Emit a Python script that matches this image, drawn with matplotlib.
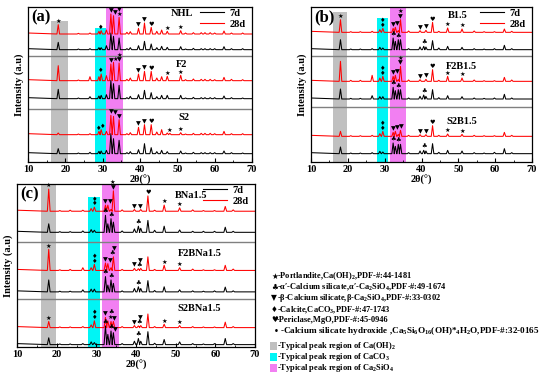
import numpy as np
import matplotlib
matplotlib.use('Agg')
import matplotlib.pyplot as plt
from matplotlib.patches import Rectangle

plt.rcParams['font.family'] = ['Liberation Serif', 'DejaVu Sans']
plt.rcParams['font.weight'] = 'bold'
plt.rcParams['mathtext.fontset'] = 'custom'
plt.rcParams['mathtext.rm'] = 'Liberation Serif:bold'
plt.rcParams['mathtext.bf'] = 'Liberation Serif:bold'
plt.rcParams['mathtext.default'] = 'bf'

# ---- peak positions (2theta) and heights (a.u.) ----
a_pos = [18.1, 23.5, 26.6, 29.0, 29.6, 31.0, 32.2, 32.9, 34.4, 36.5, 37.4, 39.6, 41.2, 43.0,
         44.5, 45.8, 47.3, 48.0, 50.9, 52.2, 54.3, 56.4, 57.4, 58.8, 60.0, 62.5, 64.5, 67.5]
nhl_28d = [28, 2, 3, 8, 10, 12, 60, 55, 50, 5, 7, 17, 33, 20, 8, 12, 8, 0, 10, 3, 4, 4, 4, 4, 3, 9, 3, 3]
nhl_7d = [22, 2, 3, 6, 6, 12, 50, 40, 35, 3, 6, 12, 25, 17, 6, 10, 7, 0, 9, 2, 4, 3, 3, 3, 3, 9, 3, 3]
f2_28d = [45, 2, 12, 12, 20, 15, 50, 55, 53, 4, 8, 20, 28, 28, 8, 12, 13, 0, 16, 3, 5, 4, 4, 4, 3, 10, 4, 3]
f2_7d = [28, 2, 6, 8, 10, 12, 55, 45, 40, 3, 7, 12, 25, 18, 6, 10, 10, 0, 10, 2, 4, 3, 3, 3, 3, 8, 3, 2]
s2_28d = [5, 2, 3, 10, 15, 10, 58, 55, 45, 3, 6, 22, 30, 30, 8, 15, 5, 4, 6, 2, 4, 4, 4, 4, 3, 10, 3, 3]
s2_7d = [15, 2, 4, 7, 8, 10, 60, 45, 40, 3, 6, 12, 30, 18, 6, 10, 6, 0, 8, 2, 4, 3, 3, 3, 3, 8, 3, 2]

b_pos = [18.0, 20.8, 23.4, 26.6, 28.7, 29.5, 32.3, 32.9, 33.7, 34.3, 36.5, 39.6, 40.6, 41.2,
         43.0, 44.7, 47.1, 51.0, 54.3, 57.0, 59.8, 62.5, 64.5]
b1_28d = [38, 2, 2, 3, 8, 12, 12, 15, 5, 38, 4, 5, 0, 6, 30, 3, 13, 10, 4, 2, 2, 10, 3]
b1_7d = [30, 2, 2, 3, 7, 5, 35, 25, 30, 30, 3, 8, 10, 8, 27, 5, 10, 7, 3, 2, 3, 13, 3]
f2b1_28d = [60, 3, 3, 18, 10, 15, 15, 18, 5, 45, 4, 5, 0, 6, 35, 3, 15, 10, 4, 2, 2, 12, 4]
f2b1_7d = [30, 2, 2, 10, 7, 7, 35, 25, 28, 28, 3, 8, 12, 8, 28, 4, 10, 7, 3, 2, 3, 14, 3]
s2b1_28d = [15, 2, 2, 3, 8, 15, 12, 15, 6, 18, 3, 5, 0, 5, 32, 3, 7, 6, 3, 2, 2, 12, 3]
s2b1_7d = [20, 2, 2, 3, 7, 5, 32, 22, 28, 28, 3, 8, 10, 8, 30, 4, 10, 8, 3, 2, 4, 15, 3]

bna_28d = [65, 2, 3, 3, 8, 12, 18, 18, 5, 60, 4, 5, 0, 5, 45, 3, 18, 10, 4, 2, 2, 14, 4]
bna_7d = [25, 2, 2, 4, 8, 6, 50, 25, 40, 30, 4, 10, 18, 12, 35, 6, 18, 7, 3, 3, 3, 15, 3]
f2bna_28d = [62, 2, 3, 8, 8, 18, 22, 20, 8, 40, 3, 6, 5, 6, 40, 3, 15, 8, 4, 2, 2, 15, 4]
f2bna_7d = [35, 2, 2, 6, 8, 8, 45, 20, 35, 25, 3, 10, 15, 10, 33, 4, 15, 6, 3, 2, 3, 14, 3]
s2bna_28d = [18, 2, 2, 3, 8, 20, 30, 20, 18, 18, 3, 6, 5, 6, 40, 3, 10, 6, 3, 2, 2, 16, 3]
s2bna_7d = [20, 2, 2, 3, 8, 6, 55, 30, 40, 35, 3, 10, 18, 10, 38, 4, 15, 8, 3, 2, 3, 18, 3]

# ---- phase marks above peaks ----
nhl_marks = [(18.1, '★'), (29.6, '♦'), (32.2, '▼'), (32.9, '▼'), (34.4, '★'), (34.6, '▼'),
             (39.6, '▼'), (41.2, '▼'), (43.0, '♥'), (47.3, '★'), (50.9, '★')]
f2_marks = [(29.6, '♦'), (32.2, '▼'), (32.9, '★'), (34.4, '▼'), (34.6, '★'),
            (39.6, '▼'), (41.2, '▼'), (43.0, '♥'), (47.3, '★'), (50.9, '★')]
s2_marks = [(29.0, '♦'), (29.6, '♦'), (32.2, '▼'), (32.9, '▼'), (34.4, '▼'),
            (39.6, '▼'), (41.2, '▼'), (43.0, '♥'), (48.0, '★'), (50.9, '★')]
b_marks = [(18.0, '★'), (29.5, '♦'), (29.5, '♦'), (32.3, '▼'), (32.9, '▼'), (34.3, '▼'), (34.3, '★'),
           (39.6, '▼'), (41.2, '▼'), (43.0, '♥'), (47.1, '★'), (51.0, '★')]
f2b_marks = b_marks[1:]
s2b_marks = [(29.5, '♦'), (29.5, '♦'), (32.3, '▼'), (32.9, '▼'), (34.3, '▼'),
             (39.6, '▼'), (41.2, '▼'), (43.0, '♥'), (47.1, '★'), (51.0, '★')]
bna_marks = [(18.0, '★'), (29.5, '♦'), (29.5, '♦'), (32.3, '▼'), (32.9, '▼'), (34.3, '▼'), (34.1, '★'),
             (39.6, '▼'), (41.2, '▼'), (43.0, '♥'), (47.1, '★'), (51.0, '★')]
f2bna_marks = [(18.0, '★'), (29.5, '♦'), (29.5, '♦'), (32.3, '▼'), (32.9, '▼'), (34.1, '♣'), (34.5, '▼'),
               (39.6, '▼'), (40.6, '♣'), (41.2, '▼'), (47.1, '★'), (51.0, '★')]
s2bna_marks = [(18.0, '★'), (29.5, '♦'), (29.5, '♦'), (32.3, '▼'), (32.9, '★'), (33.7, '♣'), (34.3, '▼'),
               (39.6, '▼'), (40.6, '♣'), (41.2, '▼'), (47.1, '★'), (51.0, '★')]
alpha_marks = [(32.3, '♣'), (33.7, '♣'), (40.6, '♣')]

W, H = 550, 383
SPAN_COLORS = ['#c0c0c0', '#00f5f5', '#f27ff2']
MARK_W = 1.15   # width of a mark, degrees
MARK_H = 14     # height of a mark, intensity units


def box(left, top, right, bottom):
    return [left / W, 1 - bottom / H, (right - left) / W, (bottom - top) / H]


def trace_xy(pos, hts, base, w=0.35, lead=3):
    xs, ys = [10.0], [base + lead]
    for p, h in zip(pos, hts):
        if h <= 0:
            continue
        xs += [p - w, p, p + w]
        ys += [base, base + h, base]
    xs.append(70.0)
    ys.append(base)
    return xs, ys


def put_marks(ax, pos, hts, base, marks):
    pos = np.array(pos)
    placed = []
    for p, sym in marks:
        i = int(np.argmin(np.abs(pos - p)))
        x, y = p, base + hts[i] + 2
        shifted = False
        for _ in range(20):
            hit = [q for q in placed if abs(q[0] - x) < MARK_W - 1e-6 and abs(q[1] - y) < MARK_H - 1e-6]
            if not hit:
                break
            q = hit[0]
            if not shifted and q[0] < x and q[0] + MARK_W - x < 0.6:
                x = q[0] + MARK_W
                shifted = True
            else:
                y = q[1] + MARK_H
        placed.append((x, y))
        ax.text(x, y, sym, ha='center', va='bottom', fontsize=4.5, family='DejaVu Sans',
                color='black', zorder=3)


panels = [
    dict(tag='(a)', box=box(28, 7, 252, 162), ymax=465, seps=[317, 160],
         spans=[(16.1, 20.7, 0.908), (27.9, 30.8, 0.865), (31.0, 35.4, 1.0)],
         pos=a_pos,
         rows=[('NHL', 51.3, 0.957, nhl_7d, 337, [], nhl_28d, 384, nhl_marks),
               ('F2', 51.0, 0.628, f2_7d, 190, [], f2_28d, 244, f2_marks),
               ('S2', 51.8, 0.284, s2_7d, 25, [], s2_28d, 82, s2_marks)]),
    dict(tag='(b)', box=box(311, 7, 532, 162), ymax=465, seps=[317, 165],
         spans=[(16.1, 19.7, 0.966), (27.9, 31.0, 0.929), (31.5, 35.7, 1.0)],
         pos=b_pos,
         rows=[('B1.5', 49.9, 0.944, b1_7d, 337, alpha_marks, b1_28d, 389, b_marks),
               ('F2B1.5', 50.8, 0.615, f2b1_7d, 189, alpha_marks, f2b1_28d, 242, f2b_marks),
               ('S2B1.5', 51.0, 0.262, s2b1_7d, 25, alpha_marks, s2b1_28d, 77, s2b_marks)]),
    dict(tag='(c)', box=box(17, 184, 255, 347), ymax=479, seps=[309, 142],
         spans=[(16.0, 19.9, 0.996), (27.9, 30.9, 0.923), (31.5, 35.8, 1.0)],
         pos=b_pos,
         rows=[('BNa1.5', 53.9, 0.929, bna_7d, 337, alpha_marks, bna_28d, 399, bna_marks),
               ('F2BNa1.5', 56.0, 0.574, f2bna_7d, 162, alpha_marks, f2bna_28d, 225, f2bna_marks),
               ('S2BNa1.5', 56.0, 0.234, s2bna_7d, 7, alpha_marks + [(34.4, '▼')], s2bna_28d, 57, s2bna_marks)]),
]

fig = plt.figure(figsize=(W / 100, H / 100), dpi=100)

for pnl in panels:
    ax = fig.add_axes(pnl['box'])
    ax.set_xlim(10, 70)
    ax.set_ylim(0, pnl['ymax'])
    for (x0, x1, top), c in zip(pnl['spans'], SPAN_COLORS):
        ax.axvspan(x0, x1, ymin=0, ymax=top, color=c, lw=0, zorder=0)
    for y in pnl['seps']:
        ax.axhline(y, color='#808080', lw=1.0, zorder=1)
    for name, lx, ly, h7, b7, m7, h28, b28, m28 in pnl['rows']:
        x, y = trace_xy(pnl['pos'], h7, b7)
        ax.plot(x, y, color='black', lw=0.75, zorder=2)
        x, y = trace_xy(pnl['pos'], h28, b28)
        ax.plot(x, y, color='red', lw=0.75, zorder=2)
        put_marks(ax, pnl['pos'], h7, b7, m7)
        put_marks(ax, pnl['pos'], h28, b28, m28)
        ax.text(lx, ly * pnl['ymax'], name, ha='center', va='center', fontsize=7.5, fontweight='bold')
    ax.plot([], [], color='black', lw=0.8, label='7d')
    ax.plot([], [], color='red', lw=0.8, label='28d')
    ax.legend(loc='upper right', bbox_to_anchor=(1.0, 1.03), frameon=False, fontsize=7.5,
              handlelength=2.3, labelspacing=0.15, handletextpad=0.5, borderaxespad=0.2)
    ax.text(0.015, 0.985, pnl['tag'], transform=ax.transAxes, ha='left', va='top',
            fontsize=12, fontweight='bold')
    ax.set_yticks([])
    ax.set_xticks(np.arange(10, 71, 10))
    ax.set_xticks(np.arange(15, 70, 10), minor=True)
    ax.tick_params(axis='x', which='both', direction='in', labelsize=7.5, pad=2)
    ax.tick_params(axis='x', which='major', length=3)
    ax.tick_params(axis='x', which='minor', length=1.5)
    ax.set_xlabel('2θ(°)', fontsize=7.5, fontweight='bold', labelpad=1)
    ax.set_ylabel('Intensity (a.u)', fontsize=7.5, fontweight='bold', labelpad=3)
    for s in ax.spines.values():
        s.set_linewidth(0.9)

# ---- phase key (bottom right) ----
key_syms = ['★', '♣', '▼', '♦', '♥', '•']
key_text = [r'-Portlandite,Ca(OH)$_2$,PDF-#:44-1481',
            r"-α′-Calcium silicate,α′-Ca$_2$SiO$_4$,PDF-#:49-1674",
            r'-β-Calcium silicate,β-Ca$_2$SiO$_4$,PDF-#:33-0302',
            r'-Calcite,CaCO$_3$,PDF-#:47-1743',
            r'-Periclase,MgO,PDF-#:45-0946',
            r'-Calcium silicate hydroxide ,Ca$_5$Si$_6$O$_{16}$(OH)*$_4$H$_2$O,PDF-#:32-0165']
key_size = [6.0, 6.0, 6.0, 6.0, 6.0, 6.6]
key_y = [276, 287, 298, 310, 320, 331]
for sym, txt, fs, y in zip(key_syms, key_text, key_size, key_y):
    sx = 274 if sym == '•' else 271
    fig.text(sx / W, 1 - y / H, sym, ha='left', va='center', fontsize=5.5, family='DejaVu Sans')
    fig.text((sx + 6) / W, 1 - y / H, txt, ha='left', va='center', fontsize=fs, fontweight='bold')

region_text = [r'-Typical peak region of Ca(OH)$_2$',
               r'-Typical peak region of CaCO$_3$',
               r'-Typical peak region of Ca$_2$SiO$_4$']
region_y = [346, 357, 368]
for txt, y, c in zip(region_text, region_y, SPAN_COLORS):
    fig.patches.append(Rectangle((270 / W, 1 - (y + 4) / H), 7 / W, 8 / H,
                                 transform=fig.transFigure, color=c, lw=0))
    fig.text(277 / W, 1 - y / H, txt, ha='left', va='center', fontsize=6.0, fontweight='bold')

fig.savefig('out.png', dpi=100)
